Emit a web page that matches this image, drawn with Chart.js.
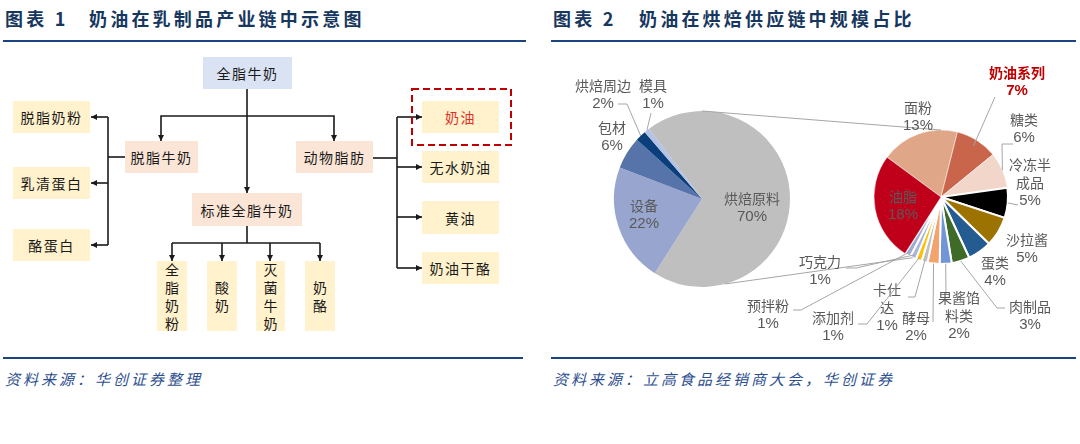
<!DOCTYPE html>
<html>
<head>
<meta charset="utf-8">
<script src="https://cdn.jsdelivr.net/npm/chart.js@4.4.1/dist/chart.umd.min.js"></script>
<style>
  body { margin:0; width:1080px; height:444px; background:#fff; position:relative; overflow:hidden;
         font-family:"Noto Sans CJK SC", sans-serif; }
  .title { position:absolute; top:8px; line-height:20px; font-size:18px; font-weight:bold; color:#17375e;
           letter-spacing:3.2px; white-space:nowrap; }
  .rule { position:absolute; height:2px; background:#1a4480; }
  .src { position:absolute; top:369px; line-height:20px; font-size:15px; font-style:italic; color:#2e4f8f;
         letter-spacing:3px; white-space:nowrap; }
  .box { position:absolute; display:flex; align-items:center; justify-content:center;
         font-size:14px; color:#1a1a1a; letter-spacing:1.5px; }
  .v { flex-direction:column; line-height:18px; letter-spacing:0; }
  .blue { background:#dae3f3; }
  .peach { background:#fbe5d6; }
  .cream { background:#fff2cc; }
  canvas { position:absolute; left:540px; top:50px; }
</style>
</head>
<body>
<div class="title" style="left:5px">图表 1</div>
<div class="title" style="left:89px">奶油在乳制品产业链中示意图</div>
<div class="title" style="left:553px">图表 2</div>
<div class="title" style="left:639px">奶油在烘焙供应链中规模占比</div>
<div class="rule" style="left:3px;width:523px;top:40px"></div>
<div class="rule" style="left:551px;width:525px;top:40px"></div>
<div class="rule" style="left:3px;width:520px;top:357px"></div>
<div class="rule" style="left:551px;width:525px;top:357px"></div>
<div class="src" style="left:5px">资料来源：华创证券整理</div>
<div class="src" style="left:553px">资料来源：立高食品经销商大会，华创证券</div>

<!-- left diagram -->
<svg width="540" height="350" style="position:absolute;left:0;top:0">
  <defs>
    <marker id="ah" markerUnits="userSpaceOnUse" markerWidth="7" markerHeight="7" refX="6" refY="3" orient="auto">
      <path d="M0,0 L6,3 L0,6 z" fill="#1a1a1a"/>
    </marker>
  </defs>
  <g stroke="#1a1a1a" stroke-width="1.6" fill="none">
    <path d="M247,89 V193" marker-end="url(#ah)"/>
    <path d="M247,116 H161 V141" marker-end="url(#ah)"/>
    <path d="M247,116 H334 V141" marker-end="url(#ah)"/>
    <path d="M125,157 H108"/>
    <path d="M108,117 V245"/>
    <path d="M108,117 H91" marker-end="url(#ah)"/>
    <path d="M108,183 H91" marker-end="url(#ah)"/>
    <path d="M108,245 H91" marker-end="url(#ah)"/>
    <path d="M247,226 V243"/>
    <path d="M172,243 H320"/>
    <path d="M172,243 V261" marker-end="url(#ah)"/>
    <path d="M222,243 V261" marker-end="url(#ah)"/>
    <path d="M270,243 V261" marker-end="url(#ah)"/>
    <path d="M320,243 V261" marker-end="url(#ah)"/>
    <path d="M373,158 H397"/>
    <path d="M397,117 V268"/>
    <path d="M397,117 H422" marker-end="url(#ah)"/>
    <path d="M397,167 H422" marker-end="url(#ah)"/>
    <path d="M397,217 H422" marker-end="url(#ah)"/>
    <path d="M397,268 H422" marker-end="url(#ah)"/>
  </g>
  <rect x="412" y="89" width="99" height="56" fill="none" stroke="#c00000" stroke-width="2" stroke-dasharray="7,4"/>
</svg>
<div class="box blue"  style="left:203px;top:57px;width:89px;height:32px">全脂牛奶</div>
<div class="box peach" style="left:125px;top:141px;width:73px;height:32px">脱脂牛奶</div>
<div class="box peach" style="left:296px;top:141px;width:77px;height:32px">动物脂肪</div>
<div class="box peach" style="left:192px;top:193px;width:110px;height:33px">标准全脂牛奶</div>
<div class="box cream" style="left:13px;top:101px;width:77px;height:32px">脱脂奶粉</div>
<div class="box cream" style="left:13px;top:167px;width:77px;height:32px">乳清蛋白</div>
<div class="box cream" style="left:13px;top:229px;width:77px;height:32px">酪蛋白</div>
<div class="box cream v" style="left:157px;top:261px;width:30px;height:70px"><span>全</span><span>脂</span><span>奶</span><span>粉</span></div>
<div class="box cream v" style="left:207px;top:261px;width:30px;height:70px"><span>酸</span><span>奶</span></div>
<div class="box cream v" style="left:256px;top:261px;width:29px;height:70px"><span>灭</span><span>菌</span><span>牛</span><span>奶</span></div>
<div class="box cream v" style="left:305px;top:261px;width:30px;height:70px"><span>奶</span><span>酪</span></div>
<div class="box cream" style="left:422px;top:101px;width:77px;height:32px;color:#e0302a">奶油</div>
<div class="box cream" style="left:422px;top:151px;width:77px;height:32px">无水奶油</div>
<div class="box cream" style="left:422px;top:201px;width:77px;height:33px">黄油</div>
<div class="box cream" style="left:422px;top:252px;width:77px;height:32px">奶油干酪</div>

<!-- right pie-of-pie -->
<canvas id="mainPie" width="540" height="300"></canvas>
<canvas id="subPie" width="540" height="300"></canvas>

<script>
// whole baking supply chain (%)
const mainLabels = ['烘焙原料', '设备', '包材', '烘焙周边', '模具'];
const mainValues = [70, 22, 6, 2, 1];
const mainColors = ['#bfbfbf', '#98a6cf', '#5673aa', '#0a3f7c', '#b4c2e4'];

// breakdown of 烘焙原料 (% of the whole chain)
const subLabels = ['面粉', '奶油系列', '糖类', '冷冻半成品', '沙拉酱', '蛋类', '肉制品',
                   '果酱馅料类', '酵母', '卡仕达', '添加剂', '巧克力', '预拌粉', '油脂'];
const subValues = [13, 7, 6, 5, 5, 4, 3, 2, 2, 1, 1, 1, 1, 18];
const subColors = ['#dfa787', '#c8654a', '#f2d6ca', '#000000', '#9c7300', '#245b91', '#3f6b28',
                   '#7096d8', '#f3a46c', '#bfbfbf', '#ffc000', '#a9b6da', '#9dabd2', '#c0001a'];

// label placement (canvas px); leader points run from the text towards the slice
const mainLabelPos = [
  { i: 0, x: 212, y: 149 },
  { i: 1, x: 104, y: 156 },
  { i: 2, x: 72, y: 78 },
  { i: 3, x: 63, y: 36, leader: [[78, 54], [87, 54]], f: 1 },
  { i: 4, x: 113, y: 36, leader: [[111, 63]], f: 1 }
];
const subLabelPos = [
  { i: 0, x: 378, y: 58 },
  { i: 1, x: 477, y: 23, red: true, leader: [[455, 47]], f: 0.9 },
  { i: 2, x: 484, y: 70, leader: [[473, 94], [462, 94]], f: 1.0 },
  { i: 3, x: 490, y: 115, lines: ['冷冻半', '成品'], leader: [[478, 155]], f: 1.0 },
  { i: 4, x: 487, y: 190 },
  { i: 5, x: 455, y: 213 },
  { i: 6, x: 490, y: 257, leader: [[465, 258], [457, 258]], f: 1.0 },
  { i: 7, x: 419, y: 248, lines: ['果酱馅', '料类'], leader: [[406, 244]], f: 1.0 },
  { i: 8, x: 376, y: 268, leader: [[393, 272]], f: 1.0 },
  { i: 9, x: 347, y: 240, lines: ['卡仕', '达'], leader: [[368, 247], [375, 247]], f: 0.97 },
  { i: 10, x: 293, y: 268, leader: [[318, 274], [327, 274]], f: 0.95 },
  { i: 11, x: 280, y: 212, leader: [[306, 218], [316, 218]], f: 0.95 },
  { i: 12, x: 228, y: 256, leader: [[253, 260], [261, 260]], f: 0.95 },
  { i: 13, x: 363, y: 147 }
];

function arcPoint(chart, i, f) {
  const a = chart.getDatasetMeta(0).data[i];
  const t = (a.startAngle + a.endAngle) / 2;
  return [a.x + a.outerRadius * f * Math.cos(t), a.y + a.outerRadius * f * Math.sin(t)];
}
function rimPoint(chart, deg) {
  const a = chart.getDatasetMeta(0).data[0];
  const t = (deg - 90) * Math.PI / 180;
  return [a.x + a.outerRadius * Math.cos(t), a.y + a.outerRadius * Math.sin(t)];
}

function drawLabels(ctx, chart, specs, labels, values) {
  specs.forEach(s => {
    if (s.leader) {
      const pts = s.leader.concat([arcPoint(chart, s.i, s.f)]);
      ctx.beginPath();
      ctx.moveTo(pts[0][0], pts[0][1]);
      pts.slice(1).forEach(p => ctx.lineTo(p[0], p[1]));
      ctx.strokeStyle = '#a6a6a6';
      ctx.lineWidth = 1;
      ctx.stroke();
    }
    const lines = s.lines || [labels[s.i]];
    const color = s.red ? '#c00000' : '#595959';
    ctx.fillStyle = color;
    ctx.textAlign = 'center';
    ctx.textBaseline = 'middle';
    ctx.font = (s.red ? 'bold ' : '') + '14px "Noto Sans CJK SC"';
    lines.forEach((ln, k) => ctx.fillText(ln, s.x, s.y + k * 18));
    ctx.font = (s.red ? 'bold ' : '') + '15px "Liberation Sans", Arial';
    ctx.fillText(values[s.i] + '%', s.x, s.y + lines.length * 18);
  });
}

const baseOpts = {
  responsive: false,
  animation: false,
  events: [],
  plugins: { legend: { display: false }, tooltip: { enabled: false } }
};

const mainChart = new Chart(document.getElementById('mainPie'), {
  type: 'pie',
  data: { labels: mainLabels, datasets: [{ data: mainValues, backgroundColor: mainColors, borderWidth: 0 }] },
  options: Object.assign({}, baseOpts, {
    rotation: -37,
    radius: 88,
    layout: { padding: { left: 0, right: 216, top: 0, bottom: 2 } }
  })
});

const overlay = {
  id: 'overlay',
  afterDraw(chart) {
    const ctx = chart.ctx;
    ctx.save();
    // connector lines between the two pies
    ctx.strokeStyle = '#a6a6a6';
    ctx.lineWidth = 1;
    [[0, 0], [165, 205]].forEach(([a, b]) => {
      const p = rimPoint(mainChart, a), q = rimPoint(chart, b);
      ctx.beginPath();
      ctx.moveTo(p[0], p[1]);
      ctx.lineTo(q[0], q[1]);
      ctx.stroke();
    });
    drawLabels(ctx, mainChart, mainLabelPos, mainLabels, mainValues);
    drawLabels(ctx, chart, subLabelPos, subLabels, subValues);
    ctx.restore();
  }
};

new Chart(document.getElementById('subPie'), {
  type: 'pie',
  data: { labels: subLabels, datasets: [{
    data: subValues, backgroundColor: subColors, borderColor: '#ffffff',
    borderWidth: [0.5, 0.5, 0.5, 2, 2, 2, 2, 2, 2, 2, 2, 2, 2, 0.5]
  }] },
  options: Object.assign({}, baseOpts, {
    rotation: -53.6,
    radius: 67,
    layout: { padding: { left: 262, right: 0, top: 0, bottom: 6 } }
  }),
  plugins: [overlay]
});
</script>
</body>
</html>
